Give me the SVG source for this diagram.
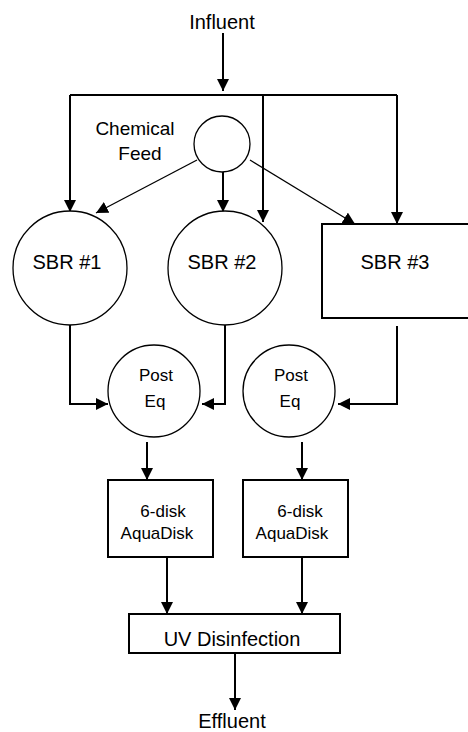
<svg xmlns="http://www.w3.org/2000/svg" width="468" height="732" viewBox="0 0 468 732">
<style>
text{font-family:"Liberation Sans",Arial,sans-serif;fill:#000;text-anchor:middle}
.big{font-size:20px}
.mid{font-size:19px}
.sm{font-size:17px}
.shape{fill:#fff;stroke:#000;stroke-width:1.3}
.box{fill:#fff;stroke:#000;stroke-width:2}
.c{fill:none;stroke:#000;stroke-width:2}
.d{fill:none;stroke:#000;stroke-width:1.3}
</style>
<defs>
<marker id="a" markerWidth="12" markerHeight="12" refX="12" refY="6" orient="auto" markerUnits="userSpaceOnUse"><path d="M0,0 L12,6 L0,12 z" fill="#000"/></marker>
</defs>
<rect width="468" height="732" fill="#fff"/>
<g id="connectors">
<path class="c" d="M223,33 V91" marker-end="url(#a)"/>
<path class="c" d="M70,95 H397"/>
<path class="c" d="M70,95 V212" marker-end="url(#a)"/>
<path class="c" d="M263,95 V222" marker-end="url(#a)"/>
<path class="c" d="M397,95 V224" marker-end="url(#a)"/>
<path class="d" d="M197,160 L96,213" marker-end="url(#a)"/>
<path class="c" d="M223,172 V212" marker-end="url(#a)"/>
<path class="d" d="M250,160 L355,224" marker-end="url(#a)"/>
<path class="c" d="M70,325 V404 H108" marker-end="url(#a)"/>
<path class="c" d="M225,325 V404 H202" marker-end="url(#a)"/>
<path class="c" d="M397,326 V404 H338" marker-end="url(#a)"/>
<path class="c" d="M147,442 V480" marker-end="url(#a)"/>
<path class="c" d="M302,442 V480" marker-end="url(#a)"/>
<path class="c" d="M167,557 V614" marker-end="url(#a)"/>
<path class="c" d="M302,557 V614" marker-end="url(#a)"/>
<path class="c" d="M235,653 V710" marker-end="url(#a)"/>
</g>
<g id="influent"><text class="big" x="222" y="29">Influent</text></g>
<g id="chemical-feed">
<circle class="shape" cx="222" cy="144" r="28"/>
<text class="mid" x="135" y="135">Chemical</text>
<text class="mid" x="140" y="160">Feed</text>
</g>
<g id="sbr1"><circle class="shape" cx="70" cy="268" r="57"/><text class="big" x="67" y="269">SBR #1</text></g>
<g id="sbr2"><circle class="shape" cx="225" cy="268" r="57"/><text class="big" x="222" y="269">SBR #2</text></g>
<g id="sbr3"><rect class="box" x="322" y="224" width="160" height="94"/><text class="big" x="395" y="269">SBR #3</text></g>
<g id="posteq1"><circle class="shape" cx="154" cy="391" r="46"/><text class="sm" x="156" y="381">Post</text><text class="sm" x="155" y="407">Eq</text></g>
<g id="posteq2"><circle class="shape" cx="289" cy="391" r="46"/><text class="sm" x="291" y="381">Post</text><text class="sm" x="290" y="407">Eq</text></g>
<g id="aquadisk1"><rect class="box" x="108" y="480" width="105" height="77"/><text class="sm" x="163" y="517">6-disk</text><text class="sm" x="157" y="539">AquaDisk</text></g>
<g id="aquadisk2"><rect class="box" x="243" y="480" width="105" height="77"/><text class="sm" x="300" y="517">6-disk</text><text class="sm" x="292" y="539">AquaDisk</text></g>
<g id="uv"><rect class="box" x="129" y="614" width="211" height="39"/><text class="big" x="232" y="646">UV Disinfection</text></g>
<g id="effluent"><text class="big" x="232" y="728">Effluent</text></g>
</svg>
